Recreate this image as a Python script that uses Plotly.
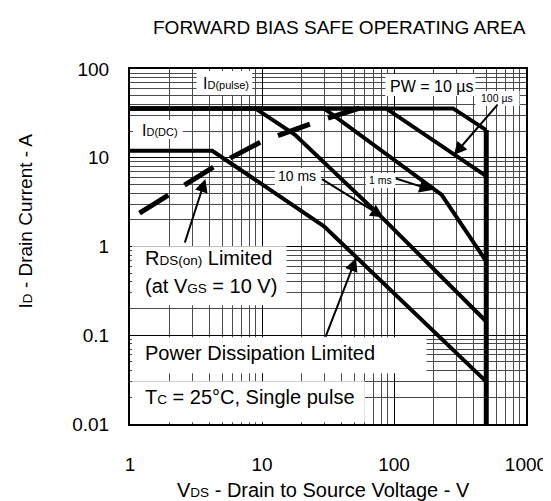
import plotly.graph_objects as go

# ---------------- data ----------------
VDS_10US = [1, 280, 500]
ID_10US = [36, 36, 20.5]
VDS_100US = [1, 87, 500]
ID_100US = [36, 36, 6.2]
VDS_1MS = [1, 29.5, 229, 500]
ID_1MS = [36, 36, 3.83, 0.68]
VDS_10MS = [1, 8.9, 17.7, 82, 500]
ID_10MS = [36, 36, 18.2, 2.09, 0.143]
VDS_DC = [1, 4.2, 29.5, 500]
ID_DC = [12, 12, 1.69, 0.030]
VDS_BV = [500, 500]
ID_BV = [20.5, 0.01]
VDS_RDS = [1.18, 4.37, 10, 24.2, 55]
ID_RDS = [2.38, 8.0, 15.3, 24.6, 36.3]

X_TICKS = [1, 10, 100, 1000]
X_TICK_LABELS = ["1", "10", "100", "1000"]
Y_TICKS = [0.01, 0.1, 1, 10, 100]
Y_TICK_LABELS = ["0.01", "0.1", "1", "10", "100"]

FONT = "Liberation Sans, Arial, sans-serif"
W, H = 551, 501
L, R, T, B = 122, 526.7, 61, 415.7


def px(x):
    return (x - L) / (R - L)


def py(y):
    return (B - y) / (B - T)


fig = go.Figure()

curves = [
    (VDS_10US, ID_10US),
    (VDS_100US, ID_100US),
    (VDS_1MS, ID_1MS),
    (VDS_10MS, ID_10MS),
    (VDS_DC, ID_DC),
]
for xs, ys in curves:
    fig.add_trace(go.Scatter(x=xs, y=ys, mode="lines",
                             line=dict(color="black", width=4),
                             showlegend=False, hoverinfo="skip"))

fig.add_trace(go.Scatter(x=VDS_BV, y=ID_BV, mode="lines",
                         line=dict(color="black", width=5),
                         showlegend=False, hoverinfo="skip"))
fig.add_trace(go.Scatter(x=VDS_RDS, y=ID_RDS, mode="lines",
                         line=dict(color="black", width=5, dash="34px,19px"),
                         showlegend=False, hoverinfo="skip"))

# white label boxes covering the grid
boxes = [
    (190, 247, 63, 87),
    (383, 475, 66, 88),
    (475, 520, 83, 98),
    (125, 176, 112, 131),
    (270, 317, 160, 178),
    (363, 393, 165, 180),
    (124, 282, 238, 297),
    (124, 425, 329, 365),
    (124, 362, 373, 414),
]
for x0, x1, y0, y1 in boxes:
    fig.add_shape(type="rect", xref="paper", yref="paper",
                  x0=px(x0), x1=px(x1), y0=py(y1), y1=py(y0),
                  fillcolor="white", line=dict(width=0), layer="above")


def sm(t, s):
    return f"<span style='font-size:{s}px'>{t}</span>"


texts = [
    ("I" + sm("D(pulse)", 11), 195, 75, "left", 16),
    ("PW = 10 µs", 429.7, 78, "center", 16),
    ("100 µs", 497, 90, "center", 10.5),
    ("I" + sm("D(DC)", 11), 132, 122, "left", 16),
    ("10 ms", 293, 168, "center", 14),
    ("1 ms", 378, 172, "center", 10.5),
    ("R" + sm("DS(on)", 13.5) + " Limited", 135, 250, "left", 20),
    ("(at V" + sm("GS", 13.5) + " = 10 V)", 135, 278, "left", 20),
    ("Power Dissipation Limited", 135, 345, "left", 20),
    ("T" + sm("C", 13.5) + " = 25°C, Single pulse", 135, 389, "left", 20),
]
for t, x, y, anc, s in texts:
    fig.add_annotation(text=t, xref="paper", yref="paper", x=px(x), y=py(y),
                       xanchor=anc, yanchor="middle", showarrow=False,
                       font=dict(family=FONT, size=s, color="black"))

arrows = [
    ((498, 95), (453, 147)),
    ((318, 170), (381, 209)),
    ((393, 170), (431, 182)),
    ((178, 236), (199, 171)),
    ((322, 330), (353, 250)),
]
for (tx, ty), (hx, hy) in arrows:
    fig.add_annotation(text="", xref="paper", yref="paper", x=px(hx), y=py(hy),
                       axref="pixel", ayref="pixel", ax=tx - hx, ay=ty - hy,
                       showarrow=True, arrowhead=2, arrowsize=1.3,
                       arrowwidth=2, arrowcolor="black")

# titles
fig.add_annotation(text="FORWARD BIAS SAFE OPERATING AREA", xref="paper", yref="paper",
                   x=px(336), y=py(20), xanchor="center", yanchor="middle",
                   showarrow=False, font=dict(family=FONT, size=19, color="black"))
fig.add_annotation(text="V" + sm("DS", 13.5) + " - Drain to Source Voltage - V",
                   xref="paper", yref="paper", x=px(320), y=py(482),
                   xanchor="center", yanchor="middle", showarrow=False,
                   font=dict(family=FONT, size=20, color="black"))
fig.add_annotation(text="I" + sm("D", 13.5) + " - Drain Current - A",
                   xref="paper", yref="paper", x=px(15), y=py(213),
                   xanchor="center", yanchor="middle", showarrow=False, textangle=-90,
                   font=dict(family=FONT, size=19, color="black"))

axis_common = dict(
    type="log", showline=True, linecolor="black", linewidth=2, mirror=True,
    showgrid=True, gridcolor="black", gridwidth=1, ticks="", zeroline=False,
    tickmode="array", tickfont=dict(family=FONT, size=19, color="black"),
    minor=dict(showgrid=True, gridcolor="#4a4a4a", gridwidth=1, dtick="D1", ticks=""),
)

fig.update_xaxes(range=[0, 3], tickvals=X_TICKS, ticktext=X_TICK_LABELS,
                 ticklabelstandoff=22, **axis_common)
fig.update_yaxes(range=[-2, 2], tickvals=Y_TICKS, ticktext=Y_TICK_LABELS,
                 ticklabelstandoff=15, **axis_common)

fig.update_layout(
    width=W, height=H, autosize=False,
    margin=dict(l=L, r=W - R, t=T, b=H - B, pad=0),
    paper_bgcolor="white", plot_bgcolor="white",
    font=dict(family=FONT, color="black"),
    showlegend=False,
)

fig.write_html("out.html")
